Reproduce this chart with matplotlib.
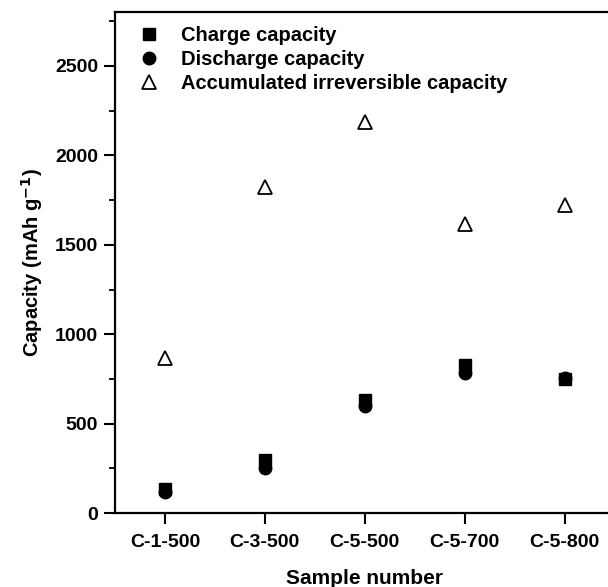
import matplotlib
matplotlib.use("Agg")
import matplotlib.pyplot as plt
from matplotlib.ticker import MultipleLocator

plt.rcParams['font.family'] = ['Liberation Sans', 'DejaVu Sans']
plt.rcParams['font.weight'] = 'bold'

samples = ["C-1-500", "C-3-500", "C-5-500", "C-5-700", "C-5-800"]
charge = [135, 298, 632, 826, 747]
discharge = [120, 250, 600, 785, 757]
irreversible = [865, 1826, 2185, 1615, 1725]

fig = plt.figure(figsize=(6.08, 5.87), dpi=100)
ax = fig.add_axes([0.189, 0.126, 0.822, 0.853])

x = list(range(1, len(samples) + 1))
ax.plot(x, charge, 's', color='black', markersize=8, label='Charge capacity')
ax.plot(x, discharge, 'o', color='black', markersize=9, label='Discharge capacity')
ax.plot(x, irreversible, '^', markerfacecolor='white', markeredgecolor='black',
        markeredgewidth=1.3, markersize=10, label='Accumulated irreversible capacity')

ax.set_xlim(0.5, 5.5)
ax.set_ylim(0, 2800)
ax.set_xticks(x)
ax.set_xticklabels(samples)
ax.yaxis.set_major_locator(MultipleLocator(500))
ax.yaxis.set_minor_locator(MultipleLocator(250))
ax.tick_params(axis='both', which='major', direction='out', length=8, width=1.5,
               labelsize=14, pad=4)
ax.tick_params(axis='x', which='major', pad=7)
ax.tick_params(axis='y', which='minor', direction='out', length=4.3, width=1.3)
for s in ax.spines.values():
    s.set_linewidth(1.6)

ax.set_xlabel('Sample number', fontsize=15, fontweight='bold', labelpad=13)
ax.set_ylabel('Capacity (mAh g$^{\\mathbf{-1}}$)', fontsize=14.5, fontweight='bold', labelpad=7)

leg = ax.legend(loc='upper left', frameon=False, fontsize=14.5, handletextpad=1.0,
                labelspacing=0.25, borderaxespad=0.3, handlelength=1.2,
                bbox_to_anchor=(0.015, 1.0))

fig.savefig('out.png', dpi=100)
